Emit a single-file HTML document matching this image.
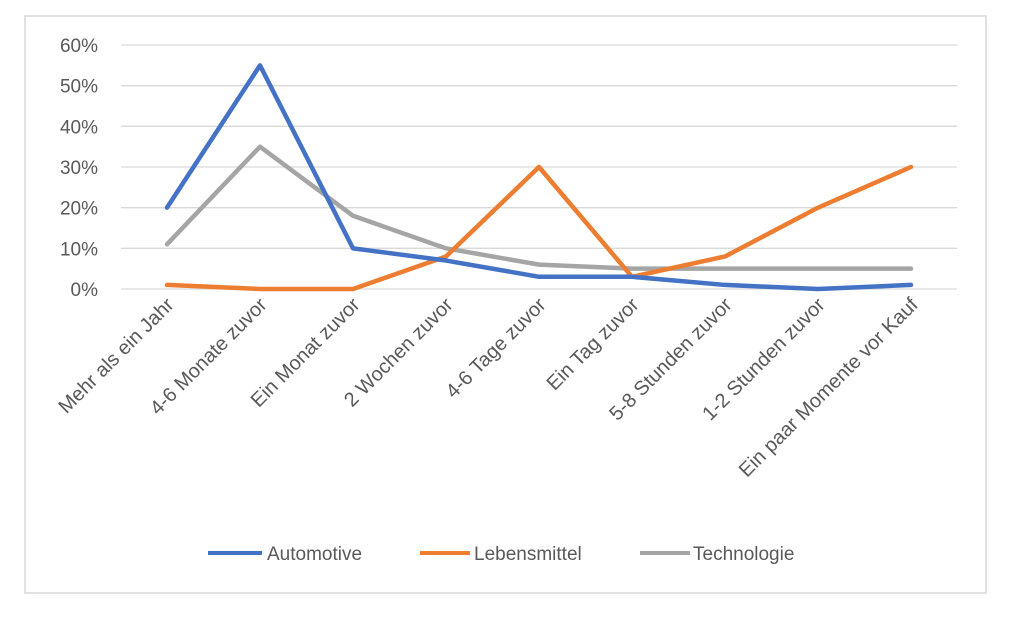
<!DOCTYPE html>
<html><head><meta charset="utf-8"><style>
html,body{margin:0;padding:0;background:#fff;}
svg{display:block;font-family:"Liberation Sans",sans-serif;}
</style></head><body>
<svg id="chart" width="1024" height="618" viewBox="0 0 1024 618">
<rect x="25" y="16" width="961" height="577" fill="#fff" stroke="#d9d9d9" stroke-width="1.5"/>
<g id="grid"></g><g id="ylab"></g><g id="xlab"></g><g id="lines"></g>
<g>
<line x1="208" y1="553" x2="262" y2="553" stroke="#4472c4" stroke-width="4"/>
<text x="267" y="560" font-size="19" fill="#595959">Automotive</text>
<line x1="420" y1="553" x2="470" y2="553" stroke="#ed7d31" stroke-width="4"/>
<text x="474" y="560" font-size="19" fill="#595959">Lebensmittel</text>
<line x1="640" y1="553" x2="690" y2="553" stroke="#a5a5a5" stroke-width="4"/>
<text x="693" y="560" font-size="19" fill="#595959">Technologie</text>
</g>
</svg>
<script>
const categories=["Mehr als ein Jahr","4-6 Monate zuvor","Ein Monat zuvor","2 Wochen zuvor","4-6 Tage zuvor","Ein Tag zuvor","5-8 Stunden zuvor","1-2 Stunden zuvor","Ein paar Momente vor Kauf"];
const automotive=[20,55,10,7,3,3,1,0,1];
const lebensmittel=[1,0,0,8,30,3,8,20,30];
const technologie=[11,35,18,10,6,5,5,5,5];
const yTicks=[0,10,20,30,40,50,60];
const NS="http://www.w3.org/2000/svg";
const x0=167,x1=911,yb=289,yt=45,ymax=60;
function xs(i){return x0+i*(x1-x0)/(categories.length-1);}
function ys(v){return yb-(v/ymax)*(yb-yt);}
const grid=document.getElementById('grid'),ylab=document.getElementById('ylab'),xlab=document.getElementById('xlab'),lines=document.getElementById('lines');
yTicks.forEach(t=>{
 const l=document.createElementNS(NS,'line');
 l.setAttribute('x1',121);l.setAttribute('x2',957);l.setAttribute('y1',ys(t));l.setAttribute('y2',ys(t));
 l.setAttribute('stroke','#d9d9d9');l.setAttribute('stroke-width','1.3');
 
 
 grid.appendChild(l);
 const tx=document.createElementNS(NS,'text');
 tx.setAttribute('x',98);tx.setAttribute('y',ys(t)+7);tx.setAttribute('text-anchor','end');
 tx.setAttribute('font-size','19');tx.setAttribute('fill','#595959');tx.textContent=t+'%';
 
 
 ylab.appendChild(tx);
});
categories.forEach((c,i)=>{
 const tx=document.createElementNS(NS,'text');
 const x=xs(i)+8,y=306;
 tx.setAttribute('x',x);tx.setAttribute('y',y);tx.setAttribute('text-anchor','end');
 tx.setAttribute('transform','rotate(-45 '+x+' '+y+')');
 tx.setAttribute('font-size','20');tx.setAttribute('fill','#595959');tx.textContent=c;
 
 
 xlab.appendChild(tx);
});
[[technologie,'#a5a5a5','technologie'],[lebensmittel,'#ed7d31','lebensmittel'],[automotive,'#4472c4','automotive']].forEach(([d,col,n])=>{
 const p=document.createElementNS(NS,'polyline');
 p.setAttribute('points',d.map((v,i)=>xs(i)+','+ys(v)).join(' '));
 p.setAttribute('fill','none');p.setAttribute('stroke',col);p.setAttribute('stroke-width','4.5');
 p.setAttribute('stroke-linejoin','round');p.setAttribute('stroke-linecap','round');
 
 
 lines.appendChild(p);
});
</script>
</body></html>
